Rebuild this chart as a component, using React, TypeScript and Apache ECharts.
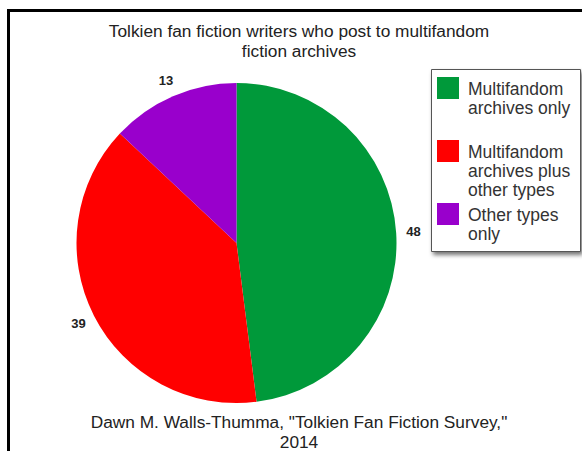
import React, { useEffect, useRef } from "react";
import * as echarts from "echarts";

const categories = [
  "Multifandom\narchives only",
  "Multifandom\narchives plus\nother types",
  "Other types\nonly",
];
const values = [48, 39, 13];
const colors = ["#00993a", "#ff0000", "#9900cc"];
const titleText = "Tolkien fan fiction writers who post to multifandom\nfiction archives";
const sourceText = 'Dawn M. Walls-Thumma, "Tolkien Fan Fiction Survey,"\n2014';

const FONT = "'Liberation Sans', Arial, Helvetica, sans-serif";

export default function App() {
  const ref = useRef<HTMLDivElement>(null);
  useEffect(() => {
    const chart = echarts.init(ref.current!, null, { renderer: "svg" });
    const legendIcon = "path://M0,0L22,0L22,22L0,22ZM26,61";
    const textStyle = {
      fontFamily: FONT,
      fontSize: 17.3,
      fontWeight: "normal",
      color: "#222",
      lineHeight: 20,
    };
    chart.setOption({
      animation: false,
      backgroundColor: "#ffffff",
      title: [
        {
          text: titleText,
          left: 299,
          top: 21,
          padding: 0,
          textAlign: "center",
          textStyle,
        },
        {
          text: sourceText,
          left: 299,
          top: 412,
          padding: 0,
          textAlign: "center",
          textStyle,
        },
      ],
      graphic: [
        {
          type: "rect",
          silent: true,
          z: 0,
          shape: { x: 8.5, y: 10.5, width: 700, height: 600 },
          style: { fill: "none", stroke: "#000", lineWidth: 3 },
        },
        {
          type: "rect",
          silent: true,
          z: 1,
          shape: { x: 431.5, y: 69.5, width: 149, height: 182 },
          style: {
            fill: "#fff",
            stroke: "#555",
            lineWidth: 1,
            shadowBlur: 4,
            shadowOffsetX: 2,
            shadowOffsetY: 3,
            shadowColor: "rgba(0,0,0,0.55)",
          },
        },
      ],
      legend: {
        orient: "vertical",
        left: 437,
        top: 77,
        padding: 0,
        itemGap: 2,
        itemWidth: 26,
        itemHeight: 61,
        icon: legendIcon,
        selectedMode: false,
        data: categories,
        formatter: (name: string) =>
          name.split("\n").length < 3 ? name + "\n" : name,
        textStyle: {
          fontFamily: FONT,
          fontSize: 17.5,
          lineHeight: 19,
          color: "#333",
        },
      },
      series: [
        {
          type: "pie",
          center: [236.5, 243],
          radius: 160,
          startAngle: 90,
          clockwise: true,
          avoidLabelOverlap: false,
          itemStyle: { borderWidth: 0 },
          label: {
            show: true,
            position: "outside",
            formatter: "{c}",
            fontFamily: FONT,
            fontSize: 13,
            fontWeight: "bold",
            color: "#222",
            distanceToLabelLine: -7,
          },
          labelLine: { show: false, length: 17, length2: 0 },
          data: categories.map((n, i) => ({
            name: n,
            value: values[i],
            itemStyle: { color: colors[i] },
          })),
        },
      ],
    });
    return () => chart.dispose();
  }, []);
  return (
    <div
      ref={ref}
      style={{ position: "fixed", left: 0, top: 0, width: 582, height: 451 }}
    />
  );
}
